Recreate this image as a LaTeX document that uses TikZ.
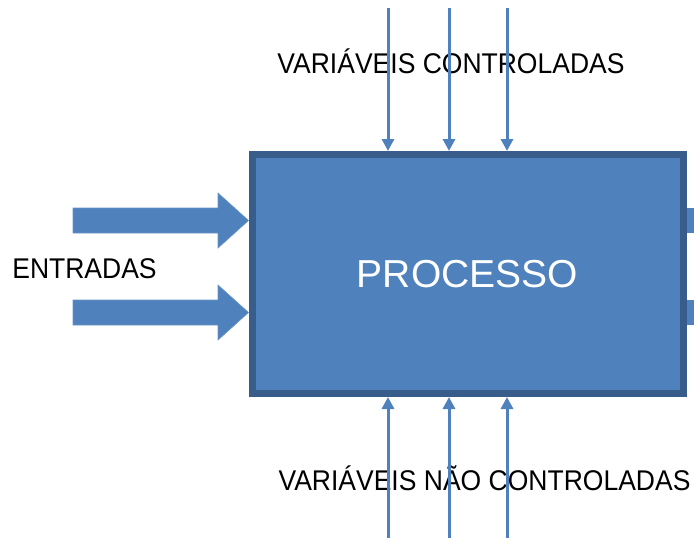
\documentclass[tikz,border=0pt]{standalone}
\usepackage{fontspec}
\setmainfont{Liberation Sans}
\newfontfamily\labelfont[FakeStretch=0.93]{Liberation Sans}
\usetikzlibrary{arrows.meta}
\definecolor{procblue}{HTML}{4F81BD}
\definecolor{procedge}{HTML}{385D8A}
\tikzset{
  caption/.style={anchor=base,inner sep=0pt,font=\labelfont\fontsize{28.5}{32}\selectfont},
  varline/.style={procblue,line width=3pt,-{Triangle[width=12pt,length=12pt]}},
  bigarrow/.style={fill=procblue,draw=procblue!85!white,line width=0.6pt}
}
\begin{document}
\begin{tikzpicture}[x=1pt,y=-1pt]
\useasboundingbox (0,0) rectangle (694,538);
% processo
\node[draw=procedge,fill=procblue,line width=7pt,minimum width=431pt,minimum height=239pt,
  inner sep=0pt,text=white,font=\fontsize{39}{43}\selectfont] (proc) at (467.5,274) {PROCESSO};
% textos
\node[caption] (ctrl) at (451,73.5) {VARIÁVEIS CONTROLADAS};
\node[caption] (entr) at (84.5,278.5) {ENTRADAS};
\node[caption] (nctrl) at (484.5,490.5) {VARIÁVEIS NÃO CONTROLADAS};
% entradas e saidas
\foreach \y in {220.5,312.5}{
  \draw[bigarrow] (73,\y-12.5) -- (218,\y-12.5) -- (218,\y-27.5) -- (proc.west |- 0,\y)
    -- (218,\y+27.5) -- (218,\y+12.5) -- (73,\y+12.5) -- cycle;
  \fill[procblue] (proc.east |- 0,\y-12.5) rectangle (700,\y+12.5);
}
% variaveis
\foreach \x [count=\i] in {388,449,507}{
  \coordinate (top\i) at (\x,8);
  \coordinate (bot\i) at (\x,538);
  \draw[varline] (top\i) -- (top\i |- proc.north);
  \draw[varline] (bot\i) -- (bot\i |- proc.south);
}
\end{tikzpicture}
\end{document}
